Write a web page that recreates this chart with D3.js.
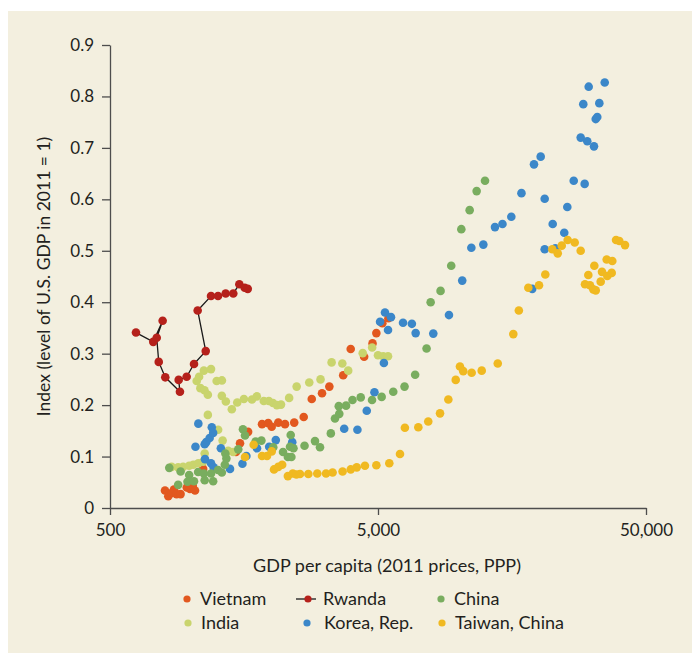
<!DOCTYPE html>
<html>
<head>
<meta charset="utf-8">
<script src="https://cdn.jsdelivr.net/npm/d3@7"></script>
<style>
  body { margin: 0; background: #fff; }
  svg { display: block; }
  text { font-family: Lato, "Open Sans", sans-serif; fill: #231f20; }
</style>
</head>
<body>
<div id="chart"></div>
<script>
// GDP per capita (2011 PPP) and index (U.S. GDP 2011 = 1)
const vietnam = [
  [802, 0.034], [825, 0.023], [849, 0.029], [866, 0.036], [886, 0.027], [917, 0.027],
  [967, 0.040], [994, 0.037], [1038, 0.034], [1018, 0.043], [1113, 0.076], [1476, 0.109],
  [1528, 0.126], [1638, 0.148], [1846, 0.163], [1947, 0.165], [2006, 0.158], [2123, 0.166],
  [2249, 0.163], [2434, 0.166], [2641, 0.177], [2830, 0.212], [3091, 0.223], [3292, 0.236],
  [3708, 0.258], [3955, 0.309], [4439, 0.294], [4770, 0.320], [4930, 0.340], [5190, 0.359],
  [5470, 0.369]
]

const rwanda = [
  [625, 0.341], [725, 0.323], [786, 0.364], [747, 0.331], [760, 0.284], [804, 0.254],
  [912, 0.226], [902, 0.249], [966, 0.255], [1029, 0.280], [1138, 0.305], [1062, 0.384],
  [1191, 0.412], [1265, 0.412], [1351, 0.417], [1442, 0.417], [1519, 0.435], [1591, 0.428],
  [1633, 0.426]
]

const china = [
  [832, 0.078], [917, 0.071], [987, 0.064], [898, 0.045], [973, 0.051], [1029, 0.052],
  [1066, 0.070], [1120, 0.067], [1191, 0.067], [1213, 0.052], [1128, 0.054], [1265, 0.074],
  [1307, 0.069], [1341, 0.084], [1359, 0.096], [1347, 0.106], [1505, 0.114], [1567, 0.153],
  [1595, 0.141], [1747, 0.129], [1836, 0.131], [2033, 0.118], [2211, 0.109], [2305, 0.099],
  [2376, 0.099], [2348, 0.119], [2419, 0.116], [2362, 0.142], [2660, 0.121], [2910, 0.130],
  [3038, 0.118], [3334, 0.145], [3455, 0.174], [3585, 0.183], [3570, 0.198], [3800, 0.199],
  [4016, 0.210], [4310, 0.215], [4750, 0.210], [5160, 0.216], [5700, 0.226], [6280, 0.236],
  [6880, 0.259], [7590, 0.310], [7860, 0.400], [8560, 0.422], [9380, 0.471], [10230, 0.542],
  [10990, 0.579], [11670, 0.616], [12540, 0.636]
]

const india = [
  [849, 0.080], [898, 0.079], [937, 0.080], [987, 0.082], [1023, 0.084], [1068, 0.087],
  [1113, 0.090], [1128, 0.106], [1159, 0.181], [1266, 0.152], [1316, 0.131], [1380, 0.111],
  [1440, 0.109], [1053, 0.247], [1075, 0.255], [1120, 0.267], [1191, 0.270], [1087, 0.233],
  [1126, 0.229], [1159, 0.220], [1250, 0.247], [1308, 0.248], [1307, 0.218], [1353, 0.207],
  [1424, 0.192], [1492, 0.205], [1580, 0.212], [1693, 0.211], [1765, 0.217], [1874, 0.208],
  [1957, 0.208], [2028, 0.204], [2097, 0.200], [2173, 0.201], [2330, 0.214], [2486, 0.236],
  [2770, 0.244], [3052, 0.250], [3356, 0.283], [3680, 0.281], [3870, 0.267], [4385, 0.301],
  [4755, 0.312], [5000, 0.297], [5230, 0.295], [5450, 0.295]
]

const korea = [
  [1042, 0.119], [1068, 0.164], [1128, 0.124], [1143, 0.128], [1177, 0.136], [1199, 0.157],
  [1213, 0.146], [1296, 0.116], [1131, 0.095], [1191, 0.087], [1218, 0.079], [1402, 0.076],
  [1560, 0.086], [1614, 0.101], [1768, 0.116], [1963, 0.119], [2078, 0.132], [2393, 0.128],
  [3740, 0.154], [4190, 0.152], [4540, 0.189], [4850, 0.225], [5260, 0.282], [5090, 0.362],
  [5310, 0.380], [5590, 0.371], [5450, 0.346], [6200, 0.360], [6690, 0.358], [6910, 0.340],
  [8040, 0.339], [9200, 0.375], [10310, 0.442], [11150, 0.506], [12360, 0.512], [13660, 0.546],
  [14570, 0.552], [15720, 0.566], [17150, 0.612], [18820, 0.426], [19100, 0.668], [20230, 0.683],
  [20940, 0.503], [20940, 0.601], [22430, 0.552], [22940, 0.505], [24770, 0.535], [25430, 0.585],
  [26870, 0.636], [28530, 0.720], [29520, 0.630], [30190, 0.713], [31980, 0.703], [32460, 0.756],
  [32900, 0.760], [29170, 0.785], [33480, 0.787], [30560, 0.819], [35070, 0.827]
]

const taiwan = [
  [1595, 0.099], [1718, 0.123], [1846, 0.101], [1927, 0.101], [2006, 0.110], [2046, 0.075],
  [2123, 0.080], [2195, 0.084], [2305, 0.062], [2405, 0.067], [2480, 0.065], [2558, 0.066],
  [2748, 0.066], [2968, 0.067], [3200, 0.067], [3385, 0.069], [3688, 0.071], [3955, 0.075],
  [4165, 0.079], [4470, 0.082], [4930, 0.083], [5510, 0.087], [6040, 0.105], [6300, 0.156],
  [7070, 0.157], [7700, 0.168], [8520, 0.184], [9150, 0.211], [9750, 0.249], [10110, 0.275],
  [10400, 0.266], [11180, 0.263], [12190, 0.267], [13990, 0.281], [15990, 0.338], [16770, 0.384],
  [18190, 0.428], [19940, 0.433], [21050, 0.454], [22350, 0.503], [23420, 0.495], [24240, 0.510],
  [25510, 0.521], [27100, 0.516], [28530, 0.500], [30460, 0.453], [29600, 0.435], [30900, 0.433],
  [31790, 0.425], [32460, 0.423], [32070, 0.471], [33880, 0.440], [34260, 0.459], [35670, 0.483],
  [35860, 0.451], [37240, 0.457], [37430, 0.480], [38650, 0.521], [39760, 0.519], [41750, 0.511]
]

const countries = ["Vietnam", "Rwanda", "China", "India", "Korea, Rep.", "Taiwan, China"]
const colors = ["#e2581f", "#b5211b", "#79ad5f", "#c9d46d", "#3b87c9", "#f0b921"]
const xTicks = [500, 5000, 50000]
const yTicks = [0, 0.1, 0.2, 0.3, 0.4, 0.5, 0.6, 0.7, 0.8, 0.9]

const width = 692, height = 653

var svg = d3.select("#chart")
  .append("svg")
    .attr("width", width)
    .attr("height", height)

// beige panel
svg.append("rect")
  .attr("x", 8).attr("y", 11)
  .attr("width", width - 8).attr("height", height - 11)
  .attr("fill", "#f3efdf")

var x = d3.scaleLog()
  .domain([500, 50000])
  .range([110, 646])

var y = d3.scaleLinear()
  .domain([0, 0.9])
  .range([508, 45])

// axes
var xAxis = svg.append("g")
  .attr("transform", "translate(0," + y(0) + ")")
  .call(d3.axisBottom(x)
    .tickValues(xTicks)
    .tickFormat(d3.format(","))
    .tickSize(7)
    .tickSizeOuter(0)
    .tickPadding(9))

var yAxis = svg.append("g")
  .attr("transform", "translate(" + x(500) + ",0)")
  .call(d3.axisLeft(y)
    .tickValues(yTicks)
    .tickFormat(d => d === 0 ? "0" : d3.format(".1f")(d))
    .tickSize(8)
    .tickSizeOuter(0)
    .tickPadding(8))

svg.selectAll(".domain, .tick line")
  .attr("stroke", "#4d4d4d")
  .attr("stroke-width", 1.3)
svg.selectAll(".tick text")
  .attr("font-family", "Lato, sans-serif")
  .attr("font-size", 17)
  .attr("fill", "#231f20")

// axis titles
svg.append("text")
  .attr("x", 387).attr("y", 572)
  .attr("text-anchor", "middle")
  .attr("font-size", 18)
  .text("GDP per capita (2011 prices, PPP)")

svg.append("text")
  .attr("transform", "translate(50," + y(0.45) + ") rotate(-90)")
  .attr("text-anchor", "middle")
  .attr("font-size", 17.5)
  .text("Index (level of U.S. GDP in 2011 = 1)")

// dots
const r = 4.3
function dots(data, color) {
  svg.append("g")
    .selectAll("circle")
    .data(data)
    .enter()
    .append("circle")
      .attr("cx", d => x(d[0]))
      .attr("cy", d => y(d[1]))
      .attr("r", r)
      .attr("fill", color)
}

dots(vietnam, colors[0])
dots(india, colors[3])
dots(korea, colors[4])
dots(china, colors[2])
dots(taiwan, colors[5])

// Rwanda is drawn as a connected path
svg.append("path")
  .datum(rwanda)
  .attr("fill", "none")
  .attr("stroke", "#1a1a1a")
  .attr("stroke-width", 1.3)
  .attr("d", d3.line().x(d => x(d[0])).y(d => y(d[1])))
dots(rwanda, colors[1])

// legend
const legendPos = [[187, 599], [306, 599], [441, 599], [188, 623], [307, 623], [442, 623]]
var legend = svg.append("g")
countries.forEach((c, i) => {
  const [lx, ly] = legendPos[i]
  if (c === "Rwanda") {
    legend.append("line")
      .attr("x1", lx - 10).attr("x2", lx + 10)
      .attr("y1", ly).attr("y2", ly)
      .attr("stroke", "#1a1a1a").attr("stroke-width", 1.3)
  }
  legend.append("circle")
    .attr("cx", lx + (c === "Rwanda" ? 2 : 0)).attr("cy", ly)
    .attr("r", 3.6)
    .attr("fill", colors[i])
  legend.append("text")
    .attr("x", c === "Rwanda" ? lx + 17 : (c === "Korea, Rep." ? lx + 17 : lx + 13))
    .attr("y", ly)
    .attr("dy", "0.35em")
    .attr("font-size", 18)
    .text(c)
})
</script>
</body>
</html>
